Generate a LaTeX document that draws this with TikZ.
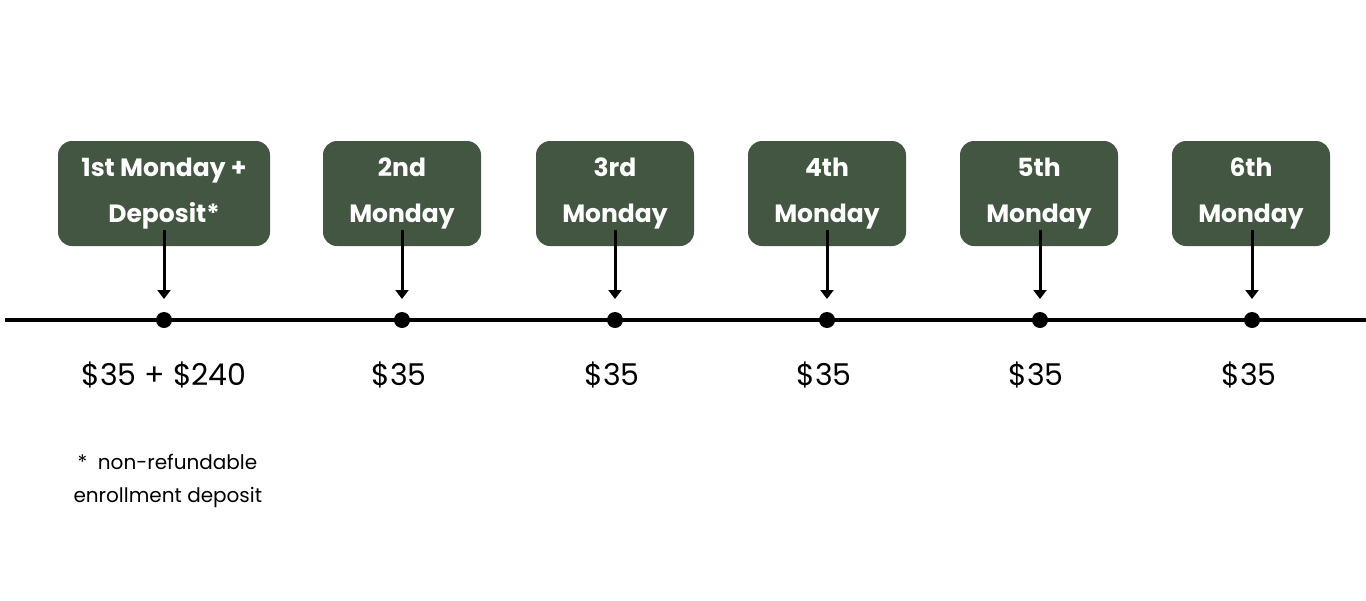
\documentclass[tikz,border=0pt]{standalone}
\usepackage{fontspec}
\setmainfont{Poppins}
\usetikzlibrary{arrows.meta}
\definecolor{boxgreen}{HTML}{435642}
\begin{document}
\begin{tikzpicture}[x=1pt,y=-1pt,
  mbox/.style={fill=boxgreen,rounded corners=14pt,text=white,font=\fontsize{25}{46}\selectfont\bfseries,align=center,inner sep=0pt},
  dot/.style={circle,fill=black,inner sep=0pt,minimum size=16pt},
  arr/.style={line width=3pt,-{Triangle[length=9pt,width=13pt]}},
  amt/.style={font=\fontsize{30}{36}\selectfont}]
\useasboundingbox (0,0) rectangle (1366,600);
\draw[line width=3.5pt] (5,320) -- (1366,320);
\foreach \i/\xl/\xr/\xd/\xa/\t in {1/58/270/164/164/{1st Monday +\\Deposit*},2/323/481/402/399/{2nd\\Monday},3/536/694/615/612/{3rd\\Monday},4/748/906/827/824/{4th\\Monday},5/960/1118/1040/1036/{5th\\Monday},6/1172/1330/1252/1249/{6th\\Monday}}{
  \node[mbox,minimum width={\xr-\xl},minimum height=105pt] (b\i) at ({(\xl+\xr)/2},193.5) {\t};
  \node[dot] (d\i) at (\xd,320) {};
  \coordinate (s\i) at (\xd,230);
  \draw[arr] (s\i) -- (\xd,299);
  \node[amt] (a\i) at (\xa,375) {\$35\ifnum\i=1\ + \$240\fi};
}
\node[anchor=west,font=\fontsize{20}{24}\selectfont] (f1) at (74,462) {*\ \ non-refundable};
\node[anchor=west,font=\fontsize{20}{24}\selectfont] (f2) at (70,497) {enrollment deposit};
\end{tikzpicture}
\end{document}
